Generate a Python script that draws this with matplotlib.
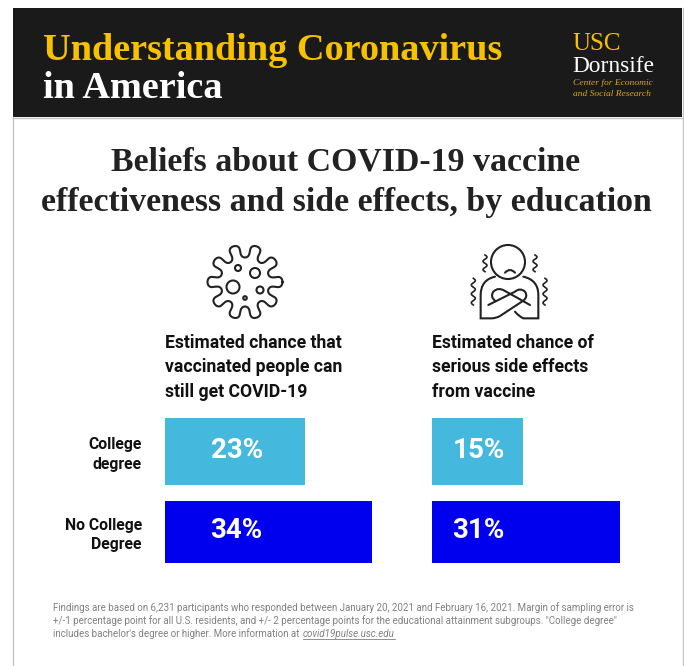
import numpy as np
import matplotlib
matplotlib.use("Agg")
import matplotlib.pyplot as plt
from matplotlib.patches import Rectangle, Circle, PathPatch
from matplotlib.path import Path

categories = ["College\ndegree", "No College\nDegree"]
breakthrough = [23, 34]
side_effects = [15, 31]
panel_titles = ["Estimated chance that\nvaccinated people can\nstill get COVID-19",
                "Estimated chance of\nserious side effects\nfrom vaccine"]
bar_colors = ["#45b8de", "#0000ee"]
footnote = ("Findings are based on 6,231 participants who responded between January 20, 2021 and February 16, 2021. Margin of sampling error is\n"
            "+/-1 percentage point for all U.S. residents, and +/- 2 percentage points for the educational attainment subgroups. \"College degree\"\n"
            "includes bachelor's degree or higher. More information at ")
link = "covid19pulse.usc.edu"

W, H = 684, 666
fig = plt.figure(figsize=(W/100, H/100), dpi=100, facecolor="white")
bg = fig.add_axes([0, 0, 1, 1])
bg.set_xlim(0, W); bg.set_ylim(H, 0); bg.axis("off")

SERIF = "Liberation Serif"
SANS = "Roboto"
bg.add_patch(Rectangle((13, 8), 669, 109, fc="#1a1a1a", ec="none"))
bg.plot([13, 13], [117, H], color="#c4c4c4", lw=1)
bg.plot([682.5, 682.5], [8, H], color="#c4c4c4", lw=1)
bg.plot([13, 682], [117.5, 117.5], color="#c4c4c4", lw=1)

bg.text(43, 50, "Understanding Coronavirus", family=SERIF, weight="bold", size=27.5, color="#f7c100", va="center")
bg.text(43, 88, "in America", family=SERIF, weight="bold", size=27.5, color="white", va="center")
bg.text(572, 44, "USC", family=SERIF, size=18, color="#f7c100", va="center")
bg.text(572, 67, "Dornsife", family=SERIF, size=16.8, color="white", va="center")
bg.text(573, 83, "Center for Economic", family=SERIF, style="italic", size=6.8, color="#d9a520", va="center")
bg.text(573, 94, "and Social Research", family=SERIF, style="italic", size=6.8, color="#d9a520", va="center")

bg.text(346, 162, "Beliefs about COVID-19 vaccine", family=SERIF, weight="bold", size=24.4, color="#222222", ha="center", va="center")
bg.text(346, 203, "effectiveness and side effects, by education", family=SERIF, weight="bold", size=24.4, color="#222222", ha="center", va="center")

k = "#222222"
# virus icon
cx, cy = 245, 282
t = np.linspace(0, 2*np.pi, 1500)
n = 10
th = t + 0.05*np.sin(2*n*t)
r = 31 + 6.5*np.cos(n*t)
bg.plot(cx + r*np.cos(th), cy + r*np.sin(th), color=k, lw=1.5)
for x0, y0, rad in [(233, 287, 6.5), (255, 273, 5), (238, 268, 3), (260, 290, 3.5), (245, 298, 1.8)]:
    bg.add_patch(Circle((x0, y0), rad, fc="none", ec=k, lw=1.5))

def zp(pts):
    return [(x/3 + 190, y/3 + 230) for x, y in pts]

def curve(pts):
    p = zp(pts)
    codes = [Path.MOVETO] + [Path.CURVE3]*(len(p)-1)
    bg.add_patch(PathPatch(Path(p, codes), fc="none", ec=k, lw=1.5, capstyle="round"))

bg.add_patch(Circle((508, 262), 17, fc="white", ec=k, lw=1.5))
curve([(945, 128), (960, 112), (975, 128)])
curve([(915, 140), (872, 150), (872, 195), (872, 195), (872, 235), (872, 235), (872, 265), (905, 265),
       (905, 265), (918, 265), (930, 258), (965, 235), (1000, 212), (1015, 200), (1005, 185), (990, 172), (975, 185),
       (935, 205), (895, 225)])
curve([(1000, 140), (1045, 150), (1045, 195), (1045, 195), (1045, 235), (1045, 235), (1045, 265), (1015, 265),
       (1000, 265), (985, 258), (975, 245)])
curve([(1020, 225), (985, 205), (945, 183), (925, 170), (910, 185), (900, 200), (915, 212)])
y = np.linspace(0, 1, 60)
for x0, y0, h, cycles in [(885, 75, 50, 2), (1035, 75, 50, 2), (850, 145, 80, 3), (1065, 145, 80, 3)]:
    bg.plot((x0 + 6*np.sin(y*cycles*2*np.pi))/3 + 190, (y0 + y*h)/3 + 230, color=k, lw=1.2)

# panel titles
for x0, title in zip([165, 432], panel_titles):
    for i, line in enumerate(title.split("\n")):
        bg.text(x0, 343 + i*24.5, line, family=SANS, weight="bold", size=12.7, color="#111111", va="center")

# bars
PX_PER_PCT = 6.08
tops = [418, 501]
heights = [67, 62]
for x0, vals, off in zip([165, 432], [breakthrough, side_effects], [45.5, 20.5]):
    ax = fig.add_axes([x0/W, 0, 220/W, 1], facecolor="none")
    ax.set_xlim(0, 220/PX_PER_PCT); ax.set_ylim(H, 0); ax.axis("off")
    for v, top, h, c in zip(vals, tops, heights, bar_colors):
        ax.barh(top + h/2, v, height=h, color=c, edgecolor="none")
        ax.text(off/PX_PER_PCT, top + h/2 - 1, f"{v}%", family=SANS, weight="bold", size=20, color="white", va="center")

for cat, yc in zip(categories, [454, 535]):
    for i, line in enumerate(cat.split("\n")):
        bg.text(142, yc - 9.5 + i*19.5, line, family=SANS, weight="bold", size=11.3, color="#111111", ha="right", va="center")

for i, line in enumerate(footnote.split("\n")):
    tx = bg.text(53, 608 + i*12.8, line, family=SANS, size=7.0, color="#808080", va="center")
rend = fig.canvas.get_renderer()
r_ = tx.get_window_extent(rend)
lt = bg.text(r_.x1 + 1, 633.6, link, family=SANS, style="italic", size=7.0, color="#808080", va="center")
r2 = lt.get_window_extent(rend)
bg.plot([r2.x0, r2.x1], [638.5, 638.5], color="#808080", lw=0.6)

fig.savefig("out.png", dpi=100, facecolor="white")
